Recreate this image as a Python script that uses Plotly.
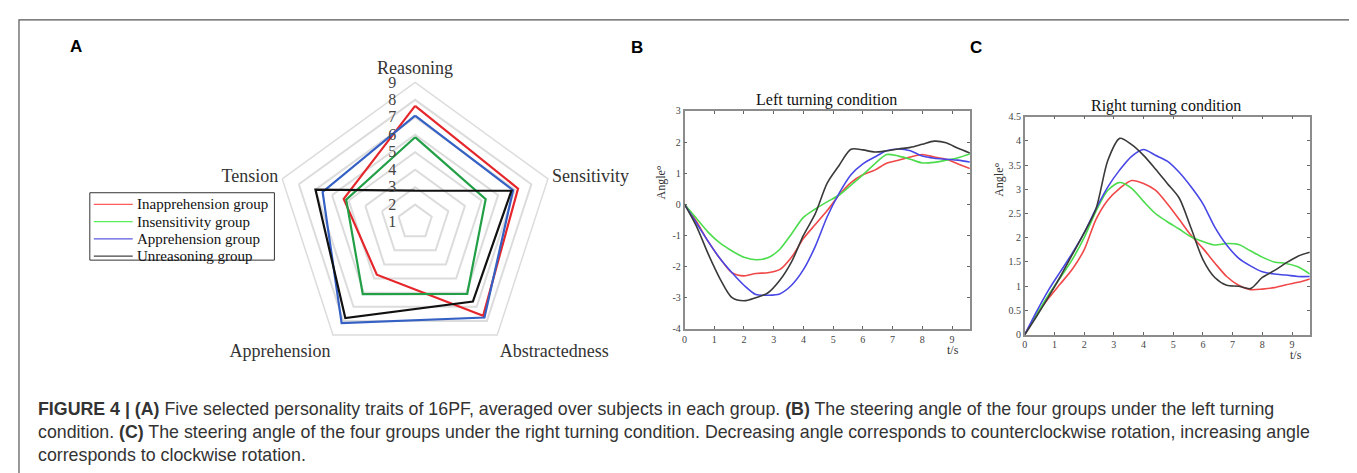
import plotly.graph_objects as go

W, H = 1357, 473

# ---------------- data ----------------
traits = ["Reasoning", "Sensitivity", "Abstractedness", "Apprehension", "Tension"]
groups = ["Inapprehension group", "Insensitivity group", "Apprehension group", "Unreasoning group"]

radar_inapprehension = [7.65, 7.2, 7.63, 4.73, 5.3]
radar_insensitivity = [5.86, 5.25, 6.08, 6.1, 5.15]
radar_apprehension = [7.1, 6.9, 7.76, 8.16, 6.57]
radar_unreasoning = [2.8, 6.8, 6.63, 7.8, 7.0]
radial_ticks = [1, 2, 3, 4, 5, 6, 7, 8, 9]

time_s = [0, 0.4, 0.8, 1.2, 1.6, 2.0, 2.4, 2.8, 3.2, 3.6, 4.0, 4.4, 4.8,
          5.2, 5.6, 6.0, 6.4, 6.8, 7.2, 7.6, 8.0, 8.4, 8.8, 9.2, 9.6]

left_inapprehension = [0, -0.55, -1.2, -1.75, -2.2, -2.3, -2.22, -2.2, -2.1, -1.7, -1.1, -0.65, -0.2,
                       0.3, 0.7, 0.95, 1.1, 1.32, 1.42, 1.52, 1.6, 1.52, 1.45, 1.3, 1.15]
left_insensitivity = [0, -0.45, -0.9, -1.25, -1.5, -1.7, -1.78, -1.72, -1.45, -0.95, -0.42, -0.15, 0.08,
                      0.3, 0.62, 0.95, 1.3, 1.6, 1.55, 1.45, 1.33, 1.35, 1.42, 1.5, 1.62]
left_apprehension = [0, -0.6, -1.2, -1.75, -2.2, -2.6, -2.9, -2.92, -2.88, -2.6, -2.1, -1.35, -0.4,
                     0.35, 0.95, 1.3, 1.52, 1.72, 1.78, 1.72, 1.55, 1.48, 1.45, 1.42, 1.36]
left_unreasoning = [0, -0.7, -1.6, -2.4, -3.0, -3.1, -3.0, -2.85, -2.45, -1.85, -1.0, -0.3, 0.68,
                    1.25, 1.77, 1.75, 1.68, 1.72, 1.78, 1.83, 1.93, 2.03, 1.98, 1.8, 1.65]

right_inapprehension = [0, 0.42, 0.75, 1.05, 1.35, 1.75, 2.38, 2.78, 3.02, 3.18, 3.12, 2.98, 2.7,
                        2.38, 2.05, 1.78, 1.48, 1.2, 1.02, 0.93, 0.94, 0.97, 1.03, 1.08, 1.15]
right_insensitivity = [0, 0.42, 0.82, 1.18, 1.55, 2.0, 2.55, 2.98, 3.14, 3.02, 2.75, 2.5, 2.33,
                       2.18, 2.02, 1.92, 1.85, 1.88, 1.86, 1.73, 1.6, 1.5, 1.47, 1.4, 1.25]
right_apprehension = [0, 0.48, 0.92, 1.3, 1.68, 2.1, 2.6, 3.05, 3.4, 3.68, 3.82, 3.7, 3.58,
                      3.35, 3.05, 2.7, 2.22, 1.85, 1.58, 1.42, 1.3, 1.25, 1.23, 1.2, 1.2]
right_unreasoning = [0, 0.38, 0.78, 1.2, 1.65, 2.1, 2.6, 3.6, 4.05, 3.92, 3.7, 3.42, 3.12,
                     2.82, 2.2, 1.55, 1.18, 1.02, 1.0, 0.95, 1.18, 1.32, 1.48, 1.62, 1.7]

x_ticks = [0, 1, 2, 3, 4, 5, 6, 7, 8, 9]
left_y_ticks = [3, 2, 1, 0, -1, -2, -3, -4]
right_y_ticks = [0, 0.5, 1, 1.5, 2, 2.5, 3, 3.5, 4, 4.5]

caption_lines = [
    "<b>FIGURE 4 | (A)</b> Five selected personality traits of 16PF, averaged over subjects in each group. <b>(B)</b> The steering angle of the four groups under the left turning",
    "condition. <b>(C)</b> The steering angle of the four groups under the right turning condition. Decreasing angle corresponds to counterclockwise rotation, increasing angle",
    "corresponds to clockwise rotation.",
]

# ---------------- styling ----------------
radar_colors = ["#e5262b", "#23a047", "#3561c4", "#111111"]
line_colors = ["#f04848", "#4cdc4c", "#4848e6", "#3a3a3a"]
legend_colors = ["#ff5a5a", "#5aee5a", "#5a5ae0", "#444444"]
SERIF = "Liberation Serif"
SANS = "Liberation Sans"


def px(x):
    return x / W


def py(y):
    return 1 - y / H


fig = go.Figure()

radar_series = [radar_inapprehension, radar_insensitivity, radar_apprehension, radar_unreasoning]
for name, vals, col in zip(groups, radar_series, radar_colors):
    fig.add_trace(go.Scatterpolar(
        r=vals + vals[:1], theta=traits + traits[:1], mode="lines",
        line=dict(color=col, width=2.2), name=name, subplot="polar", showlegend=False,
    ))

left_series = [left_inapprehension, left_insensitivity, left_apprehension, left_unreasoning]
right_series = [right_inapprehension, right_insensitivity, right_apprehension, right_unreasoning]
for name, vals, col in zip(groups, left_series, line_colors):
    fig.add_trace(go.Scatter(x=time_s, y=vals, mode="lines", line=dict(color=col, width=1.6, shape="spline", smoothing=0.8),
                             xaxis="x", yaxis="y", showlegend=False, name=name))
for name, vals, col in zip(groups, right_series, line_colors):
    fig.add_trace(go.Scatter(x=time_s, y=vals, mode="lines", line=dict(color=col, width=1.6, shape="spline", smoothing=0.8),
                             xaxis="x2", yaxis="y2", showlegend=False, name=name))

tickfont = dict(family=SERIF, size=10, color="#444")
axis_common = dict(showgrid=False, zeroline=False, showline=True, linecolor="#8c8c8c", linewidth=1.5,
                   mirror="ticks", ticks="inside", ticklen=3, tickcolor="#666", tickfont=tickfont)

fig.update_layout(
    width=W, height=H, margin=dict(l=0, r=0, t=0, b=0),
    paper_bgcolor="white", plot_bgcolor="white",
    polar=dict(
        domain=dict(x=[px(262), px(548)], y=[py(356), py(70)]),
        bgcolor="white", gridshape="linear",
        radialaxis=dict(range=[1, 9], tickvals=radial_ticks,
                        ticktext=[f"{v}\u2007\u2007" for v in radial_ticks],
                        angle=90, tickangle=90,
                        showline=False, ticks="", gridcolor="#dcdcdc", gridwidth=1.5,
                        side="counterclockwise",
                        tickfont=dict(family=SERIF, size=16, color="#444")),
        angularaxis=dict(direction="clockwise", rotation=90, showgrid=False, showline=True,
                         linecolor="#dcdcdc", linewidth=1.5, ticks="",
                         tickfont=dict(family=SERIF, size=18, color="#333")),
    ),
    xaxis=dict(domain=[px(675), px(961)], range=[0, 9.6], tickvals=x_ticks, anchor="y", **axis_common),
    yaxis=dict(domain=[py(322.3), py(99.3)], range=[-4, 3], tickvals=left_y_ticks,
               ticktext=[str(v) for v in left_y_ticks], anchor="x", **axis_common),
    xaxis2=dict(domain=[px(1016), px(1301.7)], range=[0, 9.6], tickvals=x_ticks, anchor="y2", **axis_common),
    yaxis2=dict(domain=[py(328.3), py(105)], range=[0, 4.5], tickvals=right_y_ticks,
                ticktext=[f"{v:g}" for v in right_y_ticks], anchor="x2", **axis_common),
    showlegend=False,
)

ann = []
shapes = []
for txt, x, y in [("A", 65, 33), ("B", 627, 34), ("C", 967, 34)]:
    ann.append(dict(text=f"<b>{txt}</b>", x=px(x), y=py(y), xref="paper", yref="paper", showarrow=False,
                    font=dict(family=SANS, size=17, color="#000"), xanchor="center", yanchor="middle"))
ann.append(dict(text="Left turning condition", x=px(817), y=py(88), xref="paper", yref="paper", showarrow=False,
                font=dict(family=SERIF, size=16, color="#111"), xanchor="center", yanchor="middle"))
ann.append(dict(text="Right turning condition", x=px(1158), y=py(94), xref="paper", yref="paper", showarrow=False,
                font=dict(family=SERIF, size=16, color="#111"), xanchor="center", yanchor="middle"))
for x, y in [(651, 173), (990, 170)]:
    ann.append(dict(text="Angle°", x=px(x), y=py(y), xref="paper", yref="paper", showarrow=False, textangle=-90,
                    font=dict(family=SERIF, size=12, color="#333"), xanchor="center", yanchor="middle"))
for x, y in [(944, 344), (1288, 349)]:
    ann.append(dict(text="t/s", x=px(x), y=py(y), xref="paper", yref="paper", showarrow=False,
                    font=dict(family=SERIF, size=12, color="#333"), xanchor="center", yanchor="middle"))
for line, y in zip(caption_lines, [404, 428, 452]):
    ann.append(dict(text=line, x=px(25), y=py(y), xref="paper", yref="paper", showarrow=False,
                    font=dict(family=SANS, size=17.8, color="#333"), xanchor="left", yanchor="middle"))

# legend box for the radar chart
shapes.append(dict(type="rect", xref="paper", yref="paper", x0=px(79), x1=px(264), y0=py(252), y1=py(183),
                   line=dict(color="#333", width=1), fillcolor="white", layer="above"))
for i, (name, col) in enumerate(zip(groups, legend_colors)):
    yy = 195 + i * 17.6
    shapes.append(dict(type="line", xref="paper", yref="paper", x0=px(83), x1=px(122), y0=py(yy), y1=py(yy),
                       line=dict(color=col, width=1.2), layer="above"))
    ann.append(dict(text=name, x=px(124), y=py(yy), xref="paper", yref="paper", showarrow=False,
                    font=dict(family=SERIF, size=15, color="#111"), xanchor="left", yanchor="middle"))

shapes.append(dict(type="rect", xref="paper", yref="paper", x0=px(8), x1=px(1355.5), y0=-0.05, y1=py(6),
                   line=dict(color="#555", width=1.2), fillcolor="rgba(0,0,0,0)"))
fig.update_layout(annotations=ann, shapes=shapes)

fig.write_html("out.html")
